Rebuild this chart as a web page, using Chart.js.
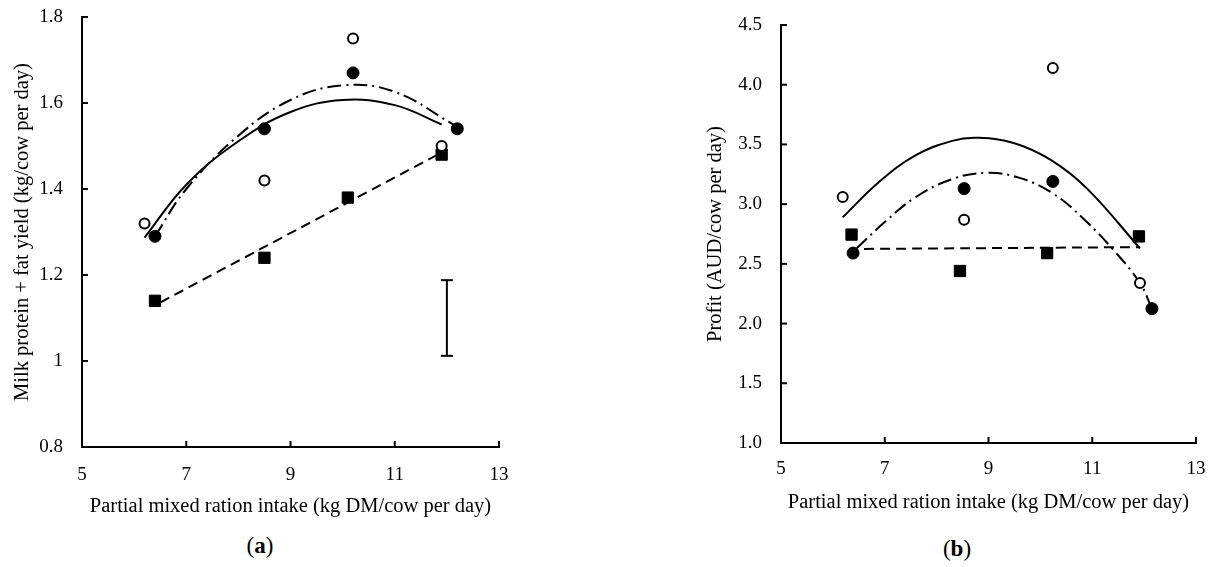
<!DOCTYPE html>
<html>
<head>
<meta charset="utf-8">
<script src="https://cdn.jsdelivr.net/npm/chart.js@4.4.1/dist/chart.umd.min.js"></script>
<style>
  body { margin: 0; background: #fff; width: 1210px; height: 567px; position: relative; overflow: hidden; font-family: 'Liberation Serif', serif; }
  canvas { position: absolute; top: 0; }
  #chartA { left: 0; }
  #chartB { left: 620px; }
  .tag { position: absolute; width: 80px; text-align: center; font-size: 23px; color: #000; }
</style>
</head>
<body>
<canvas id="chartA" width="520" height="520"></canvas>
<canvas id="chartB" width="590" height="520"></canvas>
<div class="tag" style="left:220px; top:533px">(<b>a</b>)</div>
<div class="tag" style="left:917px; top:536px">(<b>b</b>)</div>

<script>
// x 軸刻度（兩張圖共用）
const xTicks = [5, 7, 9, 11, 13];
const xTitle = 'Partial mixed ration intake (kg DM/cow per day)';

// (a) 乳蛋白 + 乳脂產量
const yTicksA = [0.8, 1, 1.2, 1.4, 1.6, 1.8];
const yTitleA = 'Milk protein + fat yield (kg/cow per day)';
const openA   = [[6.2, 1.32], [8.5, 1.42], [10.2, 1.75], [11.9, 1.50]];
const filledA = [[6.4, 1.29], [8.5, 1.54], [10.2, 1.67], [12.2, 1.54]];
const squareA = [[6.4, 1.14], [8.5, 1.24], [10.1, 1.38], [11.9, 1.48]];
const solidA   = [[6.2, 1.287], [7, 1.41], [8, 1.511], [9, 1.579], [10, 1.607], [11, 1.595], [11.9, 1.550]];
const dashDotA = [[6.4, 1.29], [7, 1.40], [8, 1.524], [9, 1.607], [10, 1.641], [11, 1.626], [12.15, 1.548]];
const dashedA  = [[6.5, 1.136], [11.9, 1.485]];
const errBarA  = [[12.0, 1.012], [12.0, 1.188]];

// (b) 利潤
const yTicksB = [1.0, 1.5, 2.0, 2.5, 3.0, 3.5, 4.0, 4.5];
const yTitleB = 'Profit (AUD/cow per day)';
const openB   = [[6.19, 3.06], [8.53, 2.87], [10.24, 4.14], [11.92, 2.34]];
const filledB = [[6.39, 2.59], [8.53, 3.13], [10.24, 3.19], [12.15, 2.125]];
const squareB = [[6.36, 2.745], [8.45, 2.44], [10.13, 2.59], [11.90, 2.73]];
const solidB   = [[6.19, 2.89], [6.9, 3.19], [7.6, 3.41], [8.3, 3.53], [8.8, 3.555], [9.5, 3.51], [10.2, 3.37], [10.9, 3.13], [11.92, 2.63]];
const dashDotB = [[6.46, 2.63], [7.0, 2.85], [7.6, 3.06], [8.3, 3.21], [8.97, 3.262], [9.6, 3.22], [10.24, 3.09], [10.85, 2.87], [11.4, 2.62], [11.92, 2.34], [12.15, 2.125]];
const dashedB  = [[6.6, 2.625], [11.92, 2.64]];

Chart.defaults.font.family = "'Liberation Serif', serif";
Chart.defaults.color = '#000';

const pts = arr => arr.map(p => ({ x: p[0], y: p[1] }));

// 往圖內畫的小刻度線
const innerTicks = {
    id: 'innerTicks',
    afterDraw(chart) {
        const ctx = chart.ctx;
        const area = chart.chartArea;
        ctx.save();
        ctx.strokeStyle = '#000';
        ctx.lineWidth = 2;
        chart.scales.x.ticks.forEach(t => {
            const px = chart.scales.x.getPixelForValue(t.value);
            ctx.beginPath();
            ctx.moveTo(px, area.bottom);
            ctx.lineTo(px, area.bottom - 6);
            ctx.stroke();
        });
        chart.scales.y.ticks.forEach(t => {
            const py = chart.scales.y.getPixelForValue(t.value);
            ctx.beginPath();
            ctx.moveTo(area.left, py);
            ctx.lineTo(area.left + 6, py);
            ctx.stroke();
        });
        ctx.restore();
    }
};

function markerSets(open, filled, square) {
    return [
        { data: pts(open), pointStyle: 'circle', pointRadius: 5, pointBorderWidth: 2,
          pointBorderColor: '#000', pointBackgroundColor: '#fff', showLine: false },
        { data: pts(filled), pointStyle: 'circle', pointRadius: 6, pointBorderWidth: 1,
          pointBorderColor: '#000', pointBackgroundColor: '#000', showLine: false },
        { data: pts(square), pointStyle: 'rect', pointRadius: 8, pointBorderWidth: 1,
          pointBorderColor: '#000', pointBackgroundColor: '#000', showLine: false }
    ];
}

function curve(arr, dash) {
    return {
        type: 'line', data: pts(arr), borderColor: '#000', borderWidth: 2,
        borderDash: dash, pointRadius: 0, tension: 0.4, fill: false
    };
}

function makeChart(id, o) {
    return new Chart(document.getElementById(id), {
        type: 'scatter',
        data: { datasets: o.datasets },
        options: {
            responsive: false,
            animation: false,
            layout: { padding: o.padding },
            plugins: { legend: { display: false }, tooltip: { enabled: false } },
            scales: {
                x: {
                    type: 'linear', min: 5, max: 13,
                    afterBuildTicks: s => { s.ticks = xTicks.map(v => ({ value: v })); },
                    // 固定高度，並拿掉刻度文字自動加的左右留白
                    afterFit: s => { s.height = o.xHeight; s.paddingLeft = 0; s.paddingRight = 0; },
                    grid: { display: false, drawTicks: false },
                    border: { display: true, color: '#000', width: 2 },
                    ticks: { font: { size: 19 }, padding: o.xTickPad, maxRotation: 0, callback: v => String(v) },
                    title: { display: true, text: xTitle, font: { size: 20.5 }, padding: { top: 0, bottom: o.xTitlePad } }
                },
                y: {
                    type: 'linear', min: o.yTicks[0], max: o.yTicks[o.yTicks.length - 1],
                    afterBuildTicks: s => { s.ticks = o.yTicks.map(v => ({ value: v })); },
                    afterFit: s => { s.width = o.yWidth; s.paddingTop = 0; s.paddingBottom = 0; },
                    grid: { display: false, drawTicks: false },
                    border: { display: true, color: '#000', width: 2 },
                    ticks: { font: { size: 19 }, padding: o.yTickPad, callback: o.yFmt },
                    title: { display: true, text: o.yTitle, font: { size: 20.5 }, padding: { top: o.yTitlePad, bottom: 0 } }
                }
            }
        },
        plugins: [innerTicks]
    });
}

makeChart('chartA', {
    yTicks: yTicksA, yTitle: yTitleA, yFmt: v => String(v),
    padding: { left: 0, top: 17, right: 21, bottom: 0 },
    xHeight: 73, yWidth: 82, xTickPad: 17, xTitlePad: 1, yTickPad: 19, yTitlePad: 10,
    datasets: [
        ...markerSets(openA, filledA, squareA),
        { type: 'line', data: pts(errBarA), borderColor: '#000', borderWidth: 2,
          pointStyle: 'line', pointRadius: 6, pointBorderWidth: 2, pointBorderColor: '#000' },
        curve(solidA, []),
        curve(dashDotA, [14, 5, 2, 5]),
        curve(dashedA, [10, 6])
    ]
});

makeChart('chartB', {
    yTicks: yTicksB, yTitle: yTitleB, yFmt: v => v.toFixed(1),
    padding: { left: 0, top: 25, right: 14, bottom: 0 },
    xHeight: 77, yWidth: 161, xTickPad: 15, xTitlePad: 5, yTickPad: 19, yTitlePad: 83,
    datasets: [
        ...markerSets(openB, filledB, squareB),
        curve(solidB, []),
        curve(dashDotB, [14, 5, 2, 5]),
        curve(dashedB, [10, 6])
    ]
});
</script>
</body>
</html>
